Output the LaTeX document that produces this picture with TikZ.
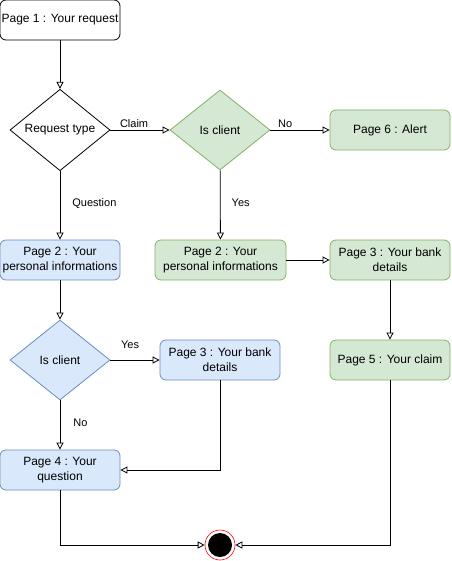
\documentclass[tikz,border=0pt]{standalone}
\usepackage{fontspec}
\setmainfont{Liberation Sans}
\usetikzlibrary{shapes.geometric,arrows.meta}
\definecolor{gfill}{HTML}{D5E8D4}
\definecolor{gline}{HTML}{82B366}
\definecolor{bfill}{HTML}{DAE8FC}
\definecolor{bline}{HTML}{6C8EBF}
\tikzset{
  pagebox/.style={draw=black, rounded corners=6pt, minimum width=120pt, minimum height=40pt, inner sep=1pt, align=center, font=\fontsize{12}{15}\selectfont, line width=0.8pt},
  greenbox/.style={pagebox, fill=gfill, draw=gline},
  bluebox/.style={pagebox, fill=bfill, draw=bline},
  decision/.style={diamond, draw=black, minimum width=100pt, minimum height=80pt, inner sep=0pt, font=\fontsize{12}{14}\selectfont, line width=0.8pt},
  conn/.style={draw=black, line width=0.8pt, -{Triangle[open, length=7pt, width=7pt]}},
  lbl/.style={font=\fontsize{11}{13}\selectfont, inner sep=1pt}
}
\begin{document}
\begin{tikzpicture}[x=1pt, y=-1pt]
\useasboundingbox (0,0) rectangle (451,561);
% nodes
\node[pagebox, fill=white] (p1) at (60,20) {Page 1 : Your request};
\node[decision, fill=white] (rt) at (60,130) {Request type};
\node[decision, fill=gfill, draw=gline] (gic) at (220,130) {Is client};
\node[greenbox] (p6) at (390,130) {Page 6 : Alert};
\node[greenbox, minimum width=131pt] (gp2) at (220.5,260) {Page 2 : Your\\personal informations};
\node[greenbox] (gp3) at (390,260) {Page 3 : Your bank\\details};
\node[greenbox] (p5) at (390,360) {Page 5 : Your claim};
\node[bluebox] (bp2) at (60,260) {Page 2 : Your\\personal informations};
\node[decision, fill=bfill, draw=bline] (bic) at (60,360) {Is client};
\node[bluebox] (bp3) at (220,360) {Page 3 : Your bank\\details};
\node[bluebox] (p4) at (60,470) {Page 4 : Your\\question};
\node[circle, draw=red, fill=white, minimum size=30pt, inner sep=0pt, line width=0.6pt] (end) at (220,545) {};
\fill[black] (end.center) circle (12pt);
% connectors
\draw[conn] (p1) -- (rt);
\draw[conn] (rt) -- node[lbl, above, pos=0.4, yshift=1pt] {Claim} (gic);
\draw[conn] (gic) -- node[lbl, above, pos=0.25, yshift=1pt] {No} (p6);
\draw[conn] (gic) -- node[lbl, right, pos=0.47, xshift=10pt] {Yes} (gp2);
\draw[conn] (rt) -- node[lbl, right, pos=0.47, xshift=11pt] {Question} (bp2);
\draw[conn] (gp2) -- (gp3);
\draw[conn] (gp3) -- (p5);
\draw[conn] (bp2) -- (bic);
\draw[conn] (bic) -- node[lbl, above, pos=0.4, yshift=10pt] {Yes} (bp3);
\draw[conn] (bic) -- node[lbl, right, pos=0.46, xshift=12pt] {No} (p4);
\draw[conn] (bp3.south) |- (p4.east);
\draw[conn] (p4.south) |- (end.west);
\draw[conn] (p5.south) |- (end.east);
\end{tikzpicture}
\end{document}
